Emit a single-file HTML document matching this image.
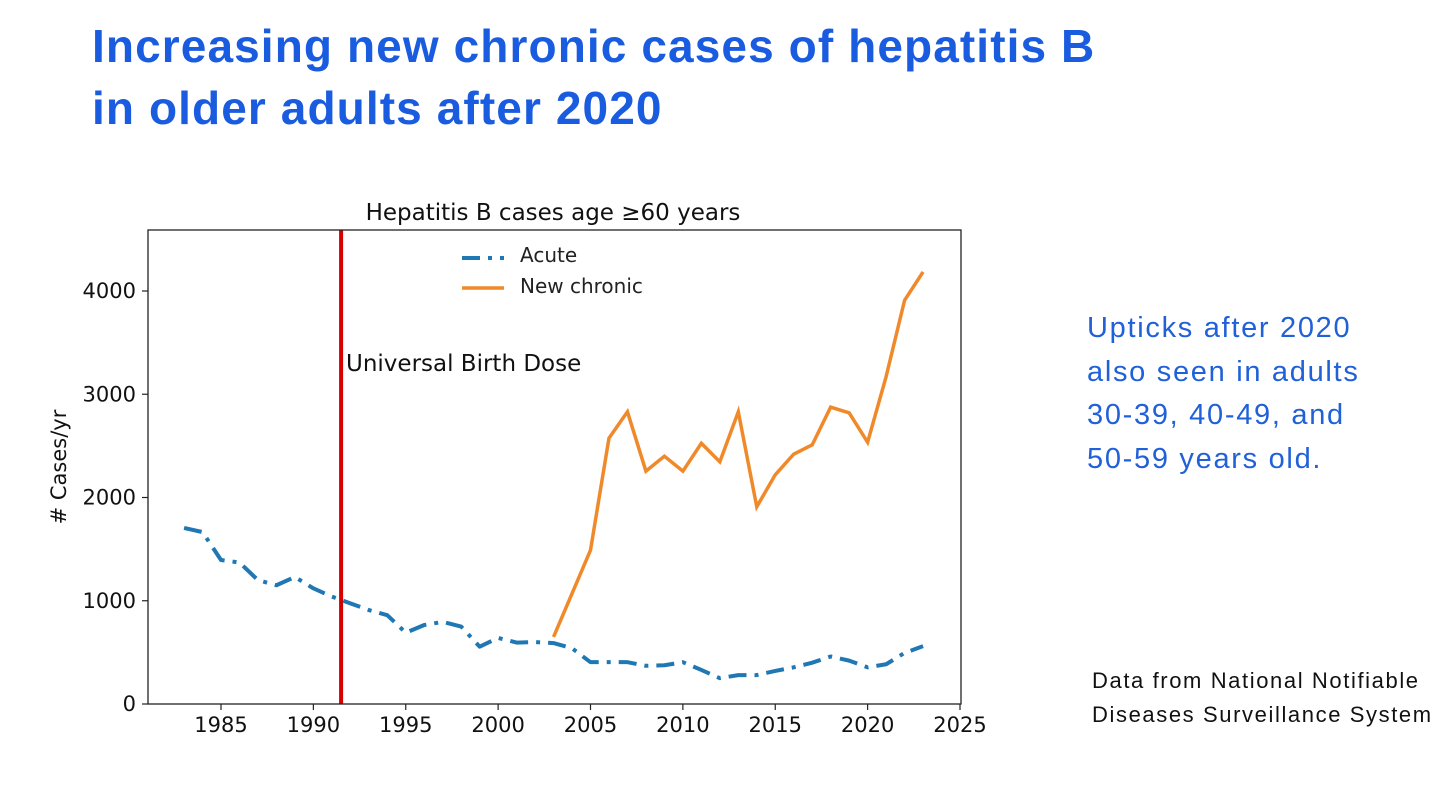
<!DOCTYPE html>
<html><head><meta charset="utf-8"><style>
body{margin:0;width:1456px;height:796px;background:#fff;overflow:hidden;font-family:"Liberation Sans",sans-serif;position:relative}
.h{position:absolute;left:92px;color:#1a5ce0;font-weight:bold;font-size:46px;letter-spacing:1.1px;line-height:62px}
.side{position:absolute;left:1087px;top:307px;color:#2060d8;font-size:29px;letter-spacing:1.7px;line-height:43.5px}
.src{position:absolute;left:1092px;top:664px;font-size:22px;letter-spacing:1.6px;line-height:34px;color:#111}
</style></head><body>
<div class="h" style="top:15px">Increasing new chronic cases of hepatitis B<br>in older adults after 2020</div>
<div class="side">Upticks after 2020<br>also seen in adults<br>30-39, 40-49, and<br>50-59 years old.</div>
<div class="src">Data from National Notifiable<br>Diseases Surveillance System</div>
<svg id="c" width="1456" height="796" style="position:absolute;left:0;top:0" font-family="DejaVu Sans, sans-serif"></svg>
<script>
const years=[1983,1984,1985,1986,1987,1988,1989,1990,1991,1992,1993,1994,1995,1996,1997,1998,1999,2000,2001,2002,2003,2004,2005,2006,2007,2008,2009,2010,2011,2012,2013,2014,2015,2016,2017,2018,2019,2020,2021,2022,2023];
const acute=[1705,1665,1395,1370,1200,1150,1230,1120,1040,975,910,860,690,765,795,750,555,640,595,600,590,540,405,405,405,370,375,405,330,250,280,280,320,355,400,460,420,355,385,495,560];
const chronicYears=[2003,2004,2005,2006,2007,2008,2009,2010,2011,2012,2013,2014,2015,2016,2017,2018,2019,2020,2021,2022,2023];
const chronic=[650,1070,1490,2575,2830,2255,2400,2255,2525,2345,2830,1910,2220,2420,2510,2875,2820,2535,3170,3910,4185];
const xTicks=[1985,1990,1995,2000,2005,2010,2015,2020,2025];
const yTicks=[0,1000,2000,3000,4000];
const birthDoseYear=1991.5;
const NS='http://www.w3.org/2000/svg';
const svg=document.getElementById('c');
const L=148,R=961,T=230,B=704;
const xs=v=>221+(v-1985)*18.475;
const ys=v=>B-v*0.10325;
function el(t,a,p){const e=document.createElementNS(NS,t);for(const k in a)e.setAttribute(k,a[k]);(p||svg).appendChild(e);return e;}
let e;
e=el('text',{x:553,y:220,'text-anchor':'middle','font-size':23,fill:'#111'});e.textContent='Hepatitis B cases age ≥60 years';


xTicks.forEach(t=>{el('line',{x1:xs(t),x2:xs(t),y1:B,y2:B+6,stroke:'#222','stroke-width':1.2});
e=el('text',{x:xs(t),y:B+28,'text-anchor':'middle','font-size':21,fill:'#111'});e.textContent=t;

});
yTicks.forEach(t=>{el('line',{x1:L-6,x2:L,y1:ys(t),y2:ys(t),stroke:'#222','stroke-width':1.2});
e=el('text',{x:L-12,y:ys(t)+7,'text-anchor':'end','font-size':21,fill:'#111'});e.textContent=t;

});
e=el('text',{x:0,y:0,transform:'translate(66,467) rotate(-90)','text-anchor':'middle','font-size':21,fill:'#111'});e.textContent='# Cases/yr';


e=el('line',{x1:xs(birthDoseYear),x2:xs(birthDoseYear),y1:T,y2:B,stroke:'#d60000','stroke-width':4});


e=el('text',{x:346,y:371,'font-size':23,fill:'#111'});e.textContent='Universal Birth Dose';


e=el('polyline',{points:years.map((y,i)=>xs(y)+','+ys(acute[i])).join(' '),fill:'none',stroke:'#1f77b4','stroke-width':4,'stroke-dasharray':'18 8 4 8','stroke-linejoin':'round'});


e=el('polyline',{points:chronicYears.map((y,i)=>xs(y)+','+ys(chronic[i])).join(' '),fill:'none',stroke:'#f0892a','stroke-width':3.5,'stroke-linejoin':'miter'});


e=el('rect',{x:L,y:T,width:R-L,height:B-T,fill:'none',stroke:'#222','stroke-width':1.3});


e=el('line',{x1:462,x2:504,y1:258,y2:258,stroke:'#1f77b4','stroke-width':4,'stroke-dasharray':'18 8 4 8'});


e=el('text',{x:520,y:262,'font-size':20,fill:'#222'});e.textContent='Acute';


e=el('line',{x1:462,x2:504,y1:288,y2:288,stroke:'#f0892a','stroke-width':3.5});


e=el('text',{x:520,y:293,'font-size':20,fill:'#222'});e.textContent='New chronic';


</script>
</body></html>
